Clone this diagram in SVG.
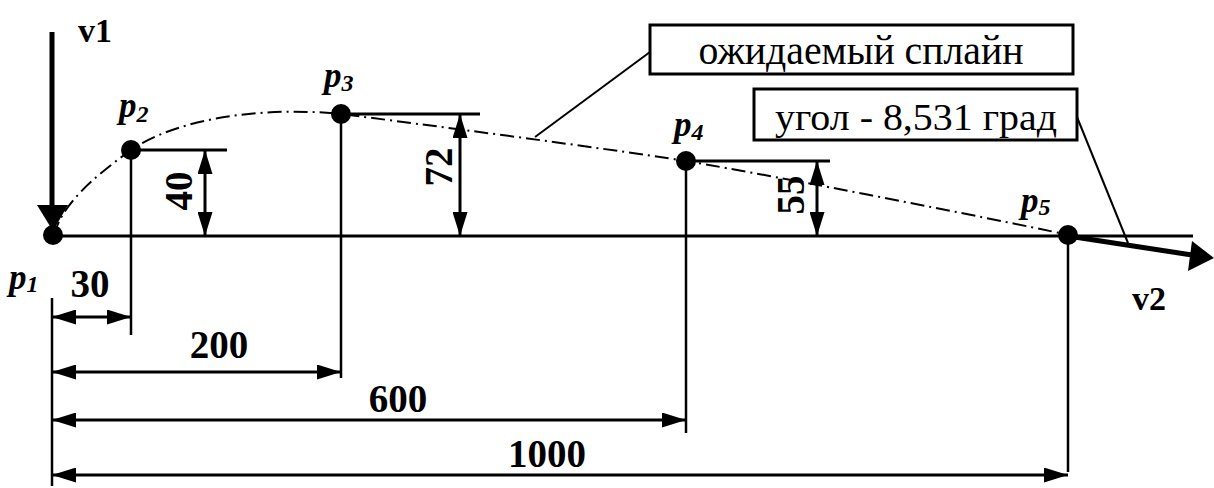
<svg xmlns="http://www.w3.org/2000/svg" width="1214" height="488" viewBox="0 0 1214 488">
<style>
.ln{stroke:#000;fill:none;stroke-width:2.5}
.base{stroke:#000;fill:none;stroke-width:3}
.dim{stroke:#000;fill:none;stroke-width:3;marker-start:url(#ah);marker-end:url(#ah)}
.lead{stroke:#000;fill:none;stroke-width:2}
.spl{stroke:#000;fill:none;stroke-width:2;stroke-dasharray:14 5 2 5}
text{font-family:'Liberation Serif','DejaVu Serif',serif;fill:#000}
.num{font-weight:bold;font-size:39px}
.vec{font-weight:bold;font-size:34px}
.pl{font-weight:bold;font-style:italic;font-size:35px}
.sub{font-size:24px}
.box{fill:#fff;stroke:#000;stroke-width:3}
.bt{text-anchor:middle}
.pt{fill:#000}
</style>
<defs>
<marker id="ah" viewBox="0 0 24 15" markerWidth="24" markerHeight="15" refX="24" refY="7.5" orient="auto-start-reverse" markerUnits="userSpaceOnUse">
<path d="M0,0 L24,7.5 L0,15 z" fill="#000"/>
</marker>
</defs>
<rect width="1214" height="488" fill="#fff"/>

<g id="connectors">
<line class="base" x1="54" y1="236" x2="1193" y2="236"/>
<line class="ln" x1="52" y1="298" x2="52" y2="486"/>
<line class="ln" x1="131" y1="150" x2="131" y2="335"/>
<line class="ln" x1="341" y1="114" x2="341" y2="378"/>
<line class="ln" x1="686" y1="161" x2="686" y2="433"/>
<line class="ln" x1="1068" y1="236" x2="1068" y2="472"/>
<line class="base" x1="131" y1="150" x2="227" y2="150"/>
<line class="base" x1="341" y1="114" x2="480" y2="114"/>
<line class="base" x1="686" y1="161" x2="830" y2="161"/>
<path class="spl" d="M54,235 C62,205 91,179 131,150 C176,119 261,106 341,114 C420,124 596,147 686,161 C786,178 979,216 1069,235"/>
<line class="dim" x1="205" y1="150" x2="205" y2="236"/>
<line class="dim" x1="460" y1="114" x2="460" y2="236"/>
<line class="dim" x1="817" y1="161" x2="817" y2="236"/>
<line class="dim" x1="52" y1="317" x2="131" y2="317"/>
<line class="dim" x1="52" y1="372" x2="341" y2="372"/>
<line class="dim" x1="52" y1="420" x2="686" y2="420"/>
<line class="dim" x1="52" y1="475" x2="1068" y2="475"/>
<line class="lead" x1="650" y1="52" x2="535" y2="137"/>
<line class="lead" x1="1077" y1="117" x2="1128" y2="243"/>
<line x1="52" y1="32" x2="52" y2="212" stroke="#000" stroke-width="5"/>
<polygon points="37,205 68,205 53,231" fill="#000"/>
<line x1="1068" y1="236" x2="1192" y2="255" stroke="#000" stroke-width="5"/>
<polygon points="1192,241 1214,258 1188,271" fill="#000"/>
</g>

<g id="labels">
<text class="num" transform="translate(192,191) rotate(-90)" text-anchor="middle">40</text>
<text class="num" transform="translate(452,167) rotate(-90)" text-anchor="middle">72</text>
<text class="num" transform="translate(804,195) rotate(-90)" text-anchor="middle">55</text>
<text class="num" x="90" y="297" text-anchor="middle">30</text>
<text class="num" x="219" y="358" text-anchor="middle">200</text>
<text class="num" x="398" y="412" text-anchor="middle">600</text>
<text class="num" x="547" y="467" text-anchor="middle">1000</text>
<text class="vec" x="78" y="42">v1</text>
<text class="vec" x="1132" y="310">v2</text>
</g>

<g id="p1"><circle class="pt" cx="53" cy="235" r="10"/><text class="pl" x="9" y="289">p<tspan class="sub" dy="3">1</tspan></text></g>
<g id="p2"><circle class="pt" cx="131" cy="150" r="10"/><text class="pl" x="119" y="117">p<tspan class="sub" dy="5">2</tspan></text></g>
<g id="p3"><circle class="pt" cx="341" cy="114" r="10"/><text class="pl" x="324" y="87">p<tspan class="sub" dy="4">3</tspan></text></g>
<g id="p4"><circle class="pt" cx="686" cy="161" r="10"/><text class="pl" x="674" y="136">p<tspan class="sub" dy="4">4</tspan></text></g>
<g id="p5"><circle class="pt" cx="1068" cy="235" r="10"/><text class="pl" x="1021" y="212">p<tspan class="sub" dy="3">5</tspan></text></g>

<g id="box-spline">
<rect class="box" x="650" y="25" width="423" height="49"/>
<text class="bt" x="861" y="64" font-size="42" textLength="325" lengthAdjust="spacingAndGlyphs">ожидаемый сплайн</text>
</g>
<g id="box-angle">
<rect class="box" x="754" y="89" width="323" height="51"/>
<text class="bt" x="916" y="130" font-size="37" textLength="282" lengthAdjust="spacingAndGlyphs">угол - 8,531 град</text>
</g>
</svg>
